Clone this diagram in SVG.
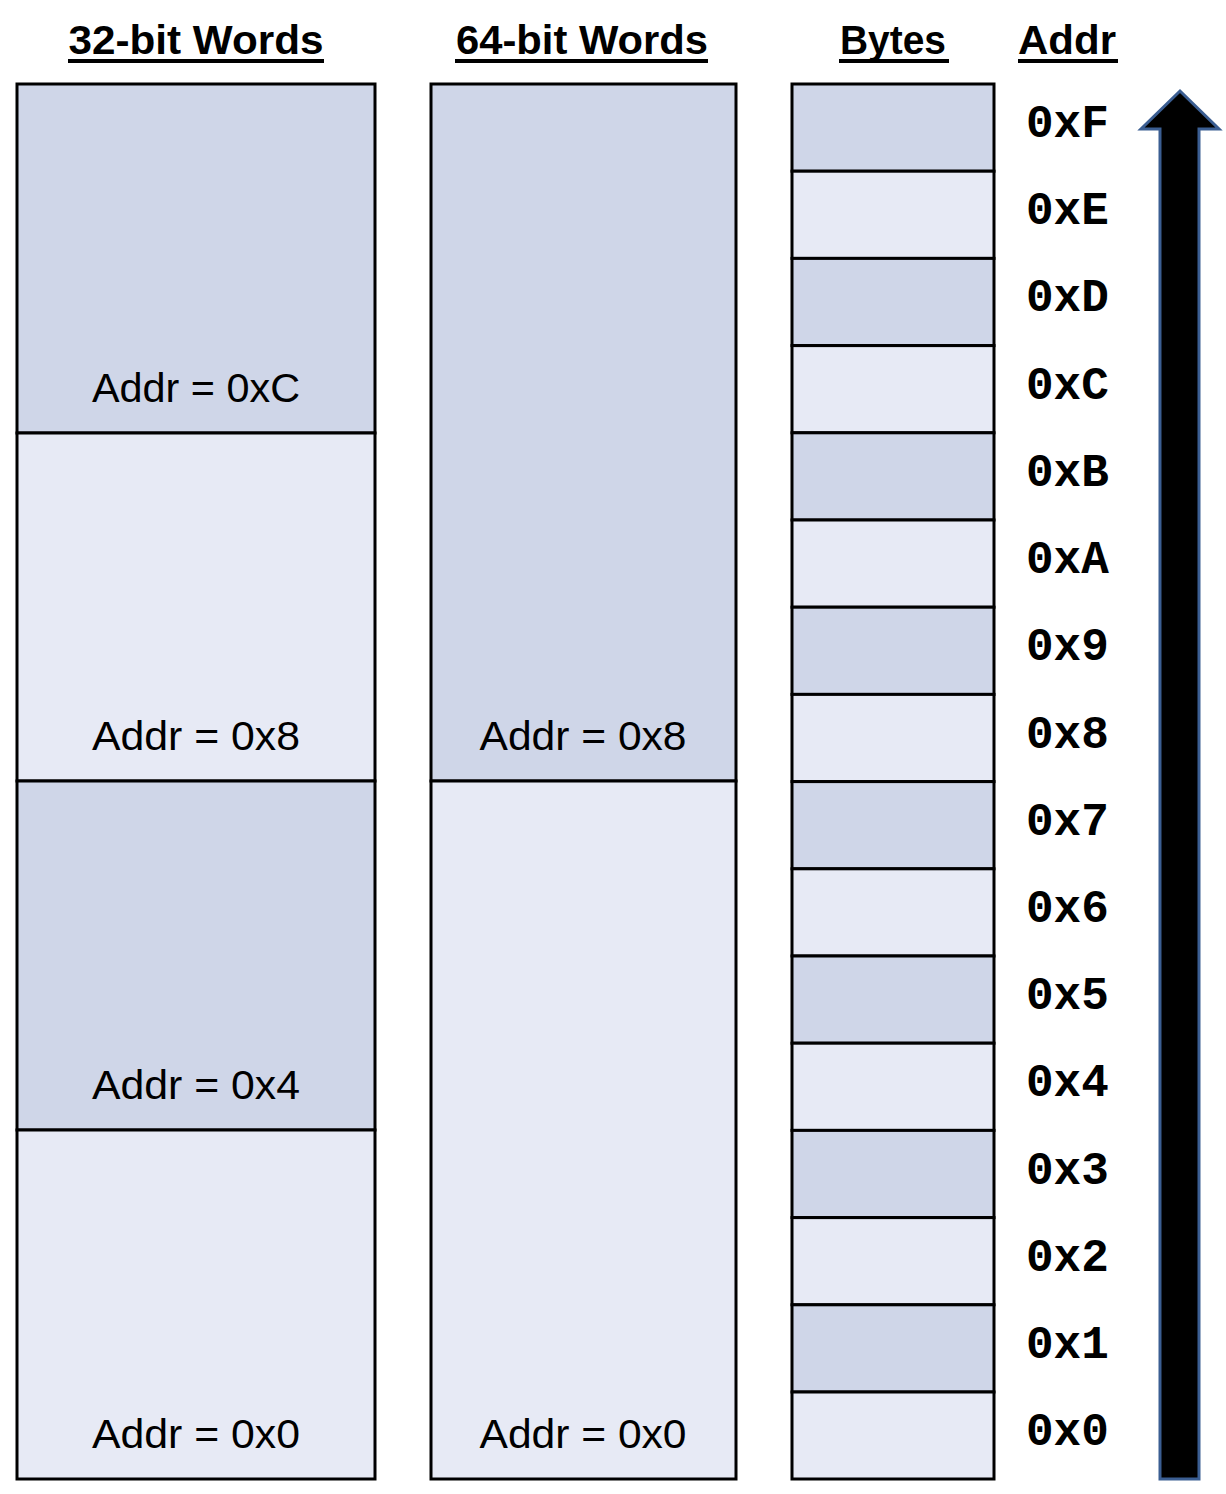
<svg xmlns="http://www.w3.org/2000/svg" width="1226" height="1494" viewBox="0 0 1226 1494">
<style>
.dk{fill:#CFD6E8;stroke:#000;stroke-width:3}
.lt{fill:#E7EAF5;stroke:#000;stroke-width:3}
.hd{font-family:"Liberation Sans",Arial,sans-serif;font-weight:bold;font-size:41px;text-anchor:middle;fill:#000}
.ul{stroke:#000;stroke-width:4}
.wl{font-family:"Liberation Sans",Arial,sans-serif;font-size:41px;text-anchor:middle;fill:#000}
.bl{font-family:"Liberation Mono","Courier New",monospace;font-weight:bold;font-size:46px;fill:#000}
</style>
<rect width="1226" height="1494" fill="#fff"/>
<g id="headers">
<text class="hd" x="196" y="54" textLength="255" lengthAdjust="spacingAndGlyphs">32-bit Words</text>
<line class="ul" x1="68" y1="61" x2="324" y2="61"/>
<text class="hd" x="582" y="54" textLength="252" lengthAdjust="spacingAndGlyphs">64-bit Words</text>
<line class="ul" x1="455" y1="61" x2="708" y2="61"/>
<text class="hd" x="893" y="54" textLength="106" lengthAdjust="spacingAndGlyphs">Bytes</text>
<line class="ul" x1="839" y1="61" x2="949" y2="61"/>
<text class="hd" x="1067" y="54" textLength="98" lengthAdjust="spacingAndGlyphs">Addr</text>
<line class="ul" x1="1018" y1="61" x2="1118" y2="61"/>
</g>
<g id="words32">
<g id="w32_c"><rect class="dk" x="17" y="84" width="358" height="349"/><text class="wl" x="196" y="402" textLength="208" lengthAdjust="spacingAndGlyphs">Addr = 0xC</text></g>
<g id="w32_8"><rect class="lt" x="17" y="433" width="358" height="348"/><text class="wl" x="196" y="750" textLength="208" lengthAdjust="spacingAndGlyphs">Addr = 0x8</text></g>
<g id="w32_4"><rect class="dk" x="17" y="781" width="358" height="349"/><text class="wl" x="196" y="1099" textLength="208" lengthAdjust="spacingAndGlyphs">Addr = 0x4</text></g>
<g id="w32_0"><rect class="lt" x="17" y="1130" width="358" height="349"/><text class="wl" x="196" y="1448" textLength="208" lengthAdjust="spacingAndGlyphs">Addr = 0x0</text></g>
</g>
<g id="words64">
<g id="w64_8"><rect class="dk" x="431" y="84" width="305" height="697"/><text class="wl" x="583" y="750" textLength="207" lengthAdjust="spacingAndGlyphs">Addr = 0x8</text></g>
<g id="w64_0"><rect class="lt" x="431" y="781" width="305" height="698"/><text class="wl" x="583" y="1448" textLength="207" lengthAdjust="spacingAndGlyphs">Addr = 0x0</text></g>
</g>
<g id="bytes">
<rect id="b15" class="dk" x="792" y="84" width="202" height="87.2"/>
<rect id="b14" class="lt" x="792" y="171.2" width="202" height="87.2"/>
<rect id="b13" class="dk" x="792" y="258.4" width="202" height="87.2"/>
<rect id="b12" class="lt" x="792" y="345.6" width="202" height="87.2"/>
<rect id="b11" class="dk" x="792" y="432.8" width="202" height="87.2"/>
<rect id="b10" class="lt" x="792" y="520" width="202" height="87.2"/>
<rect id="b9" class="dk" x="792" y="607.2" width="202" height="87.2"/>
<rect id="b8" class="lt" x="792" y="694.4" width="202" height="87.2"/>
<rect id="b7" class="dk" x="792" y="781.6" width="202" height="87.2"/>
<rect id="b6" class="lt" x="792" y="868.8" width="202" height="87.2"/>
<rect id="b5" class="dk" x="792" y="956" width="202" height="87.2"/>
<rect id="b4" class="lt" x="792" y="1043.2" width="202" height="87.2"/>
<rect id="b3" class="dk" x="792" y="1130.4" width="202" height="87.2"/>
<rect id="b2" class="lt" x="792" y="1217.6" width="202" height="87.2"/>
<rect id="b1" class="dk" x="792" y="1304.8" width="202" height="87.2"/>
<rect id="b0" class="lt" x="792" y="1392" width="202" height="87"/>
</g>
<g id="addr-labels">
<text class="bl" x="1026" y="137">0xF</text>
<text class="bl" x="1026" y="224">0xE</text>
<text class="bl" x="1026" y="311">0xD</text>
<text class="bl" x="1026" y="399">0xC</text>
<text class="bl" x="1026" y="486">0xB</text>
<text class="bl" x="1026" y="573">0xA</text>
<text class="bl" x="1026" y="660">0x9</text>
<text class="bl" x="1026" y="748">0x8</text>
<text class="bl" x="1026" y="835">0x7</text>
<text class="bl" x="1026" y="922">0x6</text>
<text class="bl" x="1026" y="1009">0x5</text>
<text class="bl" x="1026" y="1096">0x4</text>
<text class="bl" x="1026" y="1184">0x3</text>
<text class="bl" x="1026" y="1271">0x2</text>
<text class="bl" x="1026" y="1358">0x1</text>
<text class="bl" x="1026" y="1445">0x0</text>
</g>
<g id="connectors">
<path d="M1160,1479 L1160,129 L1141,129 L1180,91 L1219,129 L1199,129 L1199,1479 Z" fill="#000" stroke="#3B5E92" stroke-width="3"/>
</g>
</svg>
